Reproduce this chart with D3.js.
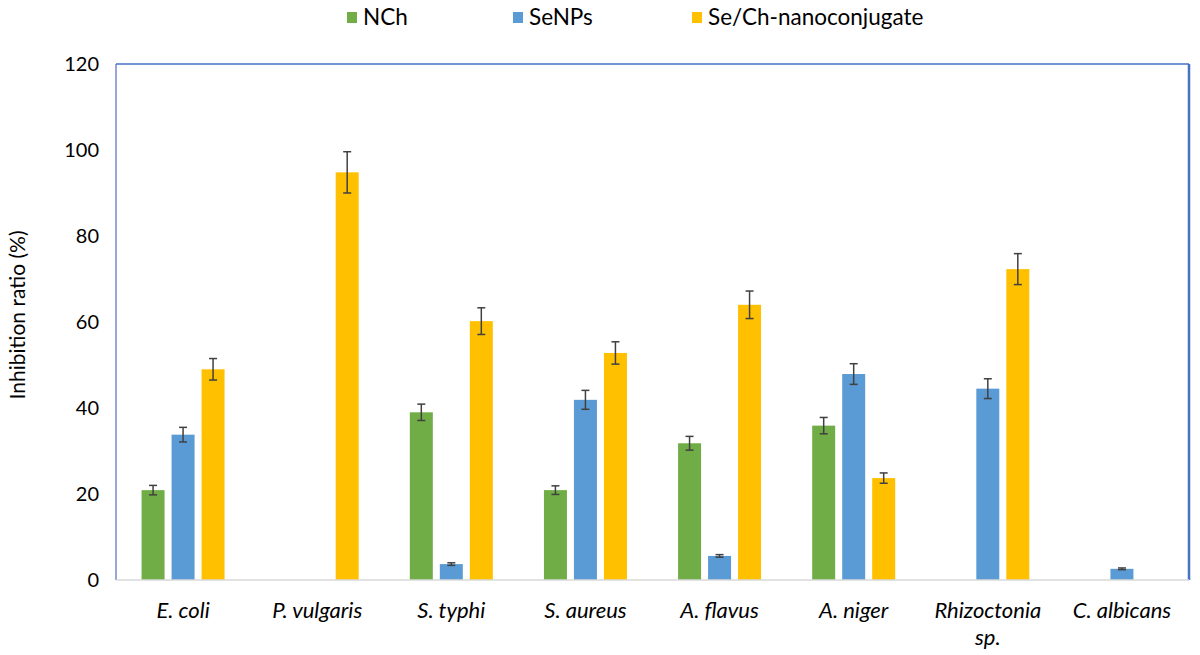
<!DOCTYPE html>
<html>
<head>
<meta charset="utf-8">
<script src="https://cdn.jsdelivr.net/npm/d3@7"></script>
<style>
  body { margin: 0; background: #fff; }
  svg { display: block; font-family: Lato, "Open Sans", sans-serif; }
</style>
</head>
<body>
<div id="chart"></div>
<script>
// categories (organisms); "\n" splits the label onto two lines
const organisms = ['E. coli', 'P. vulgaris', 'S. typhi', 'S. aureus', 'A. flavus', 'A. niger', 'Rhizoctonia\nsp.', 'C. albicans'];
const seriesNames = ['NCh', 'SeNPs', 'Se/Ch-nanoconjugate'];
const seriesColors = ['#70AD47', '#5B9BD5', '#FFC000'];

// inhibition ratio (%), null = no bar
const nchValues   = [20.9, null, 39.0, 20.9, 31.8, 35.9, null, null];
const senpsValues = [33.8, null, 3.7, 41.9, 5.6, 47.9, 44.5, 2.6];
const seChValues  = [49.0, 94.8, 60.2, 52.8, 64.0, 23.7, 72.3, null];

// error bars (± value)
const nchErr   = [1.1, null, 1.9, 1.0, 1.6, 1.9, null, null];
const senpsErr = [1.7, null, 0.3, 2.2, 0.3, 2.4, 2.3, 0.2];
const seChErr  = [2.5, 4.8, 3.1, 2.6, 3.2, 1.2, 3.6, null];

const yTicks = [0, 20, 40, 60, 80, 100, 120];

const width = 1200;
const height = 655;
const margin = { top: 64, right: 11, bottom: 75, left: 116 };

const svg = d3.select('#chart')
    .append('svg')
    .attr('width', width)
    .attr('height', height);

const x0 = d3.scaleBand()
    .domain(organisms)
    .range([margin.left, width - margin.right])
    .padding(0);

const x1 = d3.scaleBand()
    .domain(seriesNames)
    .range([x0.bandwidth() / 2 - 41.5, x0.bandwidth() / 2 + 41.5])
    .paddingInner(7 / 30)
    .paddingOuter(0);

const y = d3.scaleLinear()
    .domain([0, 120])
    .range([height - margin.bottom, margin.top]);

const allValues = [nchValues, senpsValues, seChValues];
const allErrs = [nchErr, senpsErr, seChErr];

// flatten into bar records
const bars = [];
organisms.forEach((org, i) => {
    seriesNames.forEach((s, j) => {
        const v = allValues[j][i];
        if (v != null) {
            bars.push({ org, series: s, color: seriesColors[j], value: v, err: allErrs[j][i] });
        }
    });
});

// y tick labels (no grid lines)
svg.append('g')
    .attr('transform', `translate(${margin.left},0)`)
    .call(d3.axisLeft(y).tickValues(yTicks).tickSize(0).tickPadding(17))
    .call(g => g.select('.domain').remove())
    .selectAll('text')
    .attr('font-size', 20)
    .attr('font-family', 'Lato, sans-serif')
    .attr('fill', '#000');

// bars
svg.append('g')
    .selectAll('rect')
    .data(bars)
    .enter()
    .append('rect')
    .attr('x', d => x0(d.org) + x1(d.series))
    .attr('width', x1.bandwidth())
    .attr('y', d => y(d.value))
    .attr('height', d => y(0) - y(d.value))
    .attr('fill', d => d.color);

// error bars
const errG = svg.append('g')
    .attr('stroke', '#404040')
    .attr('stroke-width', 1.5);

bars.filter(d => d.err != null).forEach(d => {
    const cx = x0(d.org) + x1(d.series) + x1.bandwidth() / 2;
    const y1 = y(d.value + d.err);
    const y2 = y(d.value - d.err);
    errG.append('line').attr('x1', cx).attr('x2', cx).attr('y1', y1).attr('y2', y2);
    errG.append('line').attr('x1', cx - 4).attr('x2', cx + 4).attr('y1', y1).attr('y2', y1);
    errG.append('line').attr('x1', cx - 4).attr('x2', cx + 4).attr('y1', y2).attr('y2', y2);
});

// frame: blue left, top, right; light gray baseline
const plotLeft = margin.left, plotRight = width - margin.right;
const plotTop = y(120), plotBottom = y(0);
svg.append('line')
    .attr('x1', plotLeft).attr('x2', plotLeft).attr('y1', plotTop).attr('y2', plotBottom)
    .attr('stroke', '#5468C4').attr('stroke-width', 1.2);
svg.append('line')
    .attr('x1', plotLeft).attr('x2', plotRight).attr('y1', plotTop).attr('y2', plotTop)
    .attr('stroke', '#4472C4').attr('stroke-width', 1.5);
svg.append('line')
    .attr('x1', plotRight).attr('x2', plotRight).attr('y1', plotTop).attr('y2', plotBottom)
    .attr('stroke', '#4472C4').attr('stroke-width', 2.5);
svg.append('line')
    .attr('x1', plotLeft).attr('x2', plotRight).attr('y1', plotBottom).attr('y2', plotBottom)
    .attr('stroke', '#D9D9D9').attr('stroke-width', 1.5);

// category labels
const catLabels = svg.append('g')
    .selectAll('text')
    .data(organisms)
    .enter()
    .append('text')
    .attr('x', d => x0(d) + x0.bandwidth() / 2)
    .attr('y', 618)
    .attr('text-anchor', 'middle')
    .attr('font-size', 22)
    .attr('font-style', 'italic')
    .attr('fill', '#000');

catLabels.each(function (d) {
    const lines = d.split('\n');
    const t = d3.select(this);
    lines.forEach((ln, k) => {
        t.append('tspan')
            .attr('x', x0(d) + x0.bandwidth() / 2)
            .attr('dy', k === 0 ? 0 : 27)
            .text(ln);
    });
});

// y axis title
svg.append('text')
    .attr('transform', `translate(25, ${(plotTop + plotBottom) / 2 - 7}) rotate(-90)`)
    .attr('text-anchor', 'middle')
    .attr('font-size', 21)
    .attr('fill', '#000')
    .text('Inhibition ratio (%)');

// legend
const legendX = [347, 513, 692];
const legend = svg.append('g')
    .selectAll('g')
    .data(seriesNames)
    .enter()
    .append('g')
    .attr('transform', (d, i) => `translate(${legendX[i]}, 0)`);

legend.append('rect')
    .attr('x', 0)
    .attr('y', 12)
    .attr('width', 10)
    .attr('height', 11)
    .attr('fill', (d, i) => seriesColors[i]);

legend.append('text')
    .attr('x', 16)
    .attr('y', 25)
    .attr('font-size', 22.5)
    .attr('fill', '#000')
    .text(d => d);
</script>
</body>
</html>
